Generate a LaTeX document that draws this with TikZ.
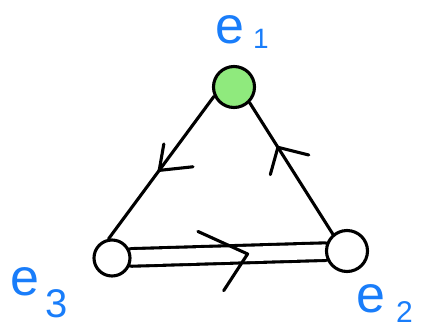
\documentclass[tikz,border=0pt]{standalone}
\usepackage{fontspec}
\setmainfont{Liberation Sans}
\usetikzlibrary{decorations.markings,backgrounds}
\definecolor{lblue}{RGB}{25,125,250}
\definecolor{lgreen}{RGB}{143,234,125}
\begin{document}
\begin{tikzpicture}[x=1pt,y=-1pt,
  vtx/.style={circle,draw,line width=3.1pt,inner sep=0pt,minimum size=#1},
  edge/.style={draw,line width=3.1pt,line cap=round},
  mk/.style n args={3}{postaction={decorate,decoration={markings,
      mark=at position #1 with {\draw[line width=3.1pt,line cap=round,line join=round] #2 -- (0,0) -- #3;}}}},
  lab/.style={text=lblue,font=\fontsize{52}{52}\selectfont,inner sep=0pt,anchor=base west}]
\useasboundingbox (0,0) rectangle (425,327);
% vertices
\node[vtx=41pt,fill=lgreen] (e1) at (234,87) {};
\node[vtx=36pt,fill=white] (e3) at (112,258) {};
\node[vtx=41pt,fill=white] (e2) at (347,251) {};
% edges
\begin{scope}[on background layer]
  \draw[edge,double,double distance=14.5pt] (e3) -- (e2);
  \draw[edge] (e1.205) -- (e3.100);
  \draw[edge] (e2.130) -- (e1.-45);
\end{scope}
% arrowheads
\path[mk={0.6}{(-49pt,24pt)}{(-25pt,-36pt)}] (e3) -- (e2);
\path[mk={0.52}{(-24pt,-12pt)}{(-23pt,25pt)}] (e1.205) -- (e3.100);
\path[mk={0.66}{(-19pt,21pt)}{(-23pt,-22pt)}] (e2.130) -- (e1.-45);
% labels
\node[lab] (l1) at (215,43) {e\hspace{9pt}\raisebox{-5pt}{\fontsize{28}{28}\selectfont 1}};
\node[lab] (l3) at (10,295) {e\hspace{6pt}\raisebox{-22pt}{\fontsize{40}{40}\selectfont 3}};
\node[lab] (l2) at (356,312) {e\hspace{11pt}\raisebox{-10pt}{\fontsize{30}{30}\selectfont 2}};
\end{tikzpicture}
\end{document}
